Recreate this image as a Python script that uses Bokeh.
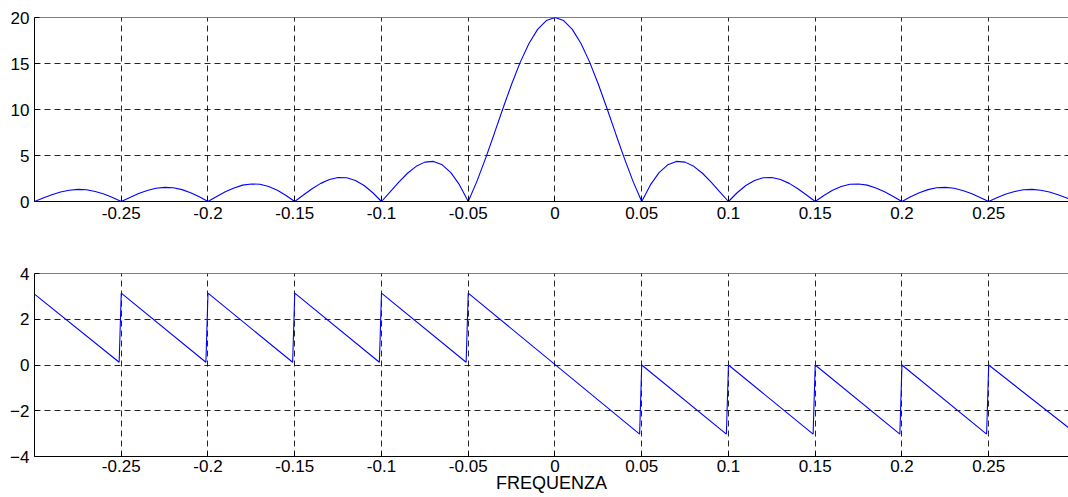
from bokeh.plotting import figure
from bokeh.models import Range1d, FixedTicker, Span
from bokeh.layouts import column
from bokeh.embed import file_html
from bokeh.resources import INLINE

# ---------------- data ----------------
freq = [-0.300, -0.295, -0.290, -0.285, -0.280, -0.275, -0.270, -0.265, -0.260, -0.255,
        -0.250, -0.245, -0.240, -0.235, -0.230, -0.225, -0.220, -0.215, -0.210, -0.205,
        -0.200, -0.195, -0.190, -0.185, -0.180, -0.175, -0.170, -0.165, -0.160, -0.155,
        -0.150, -0.145, -0.140, -0.135, -0.130, -0.125, -0.120, -0.115, -0.110, -0.105,
        -0.100, -0.095, -0.090, -0.085, -0.080, -0.075, -0.070, -0.065, -0.060, -0.055,
        -0.050, -0.045, -0.040, -0.035, -0.030, -0.025, -0.020, -0.015, -0.010, -0.005,
        0.000,
        0.005, 0.010, 0.015, 0.020, 0.025, 0.030, 0.035, 0.040, 0.045, 0.050,
        0.055, 0.060, 0.065, 0.070, 0.075, 0.080, 0.085, 0.090, 0.095, 0.100,
        0.105, 0.110, 0.115, 0.120, 0.125, 0.130, 0.135, 0.140, 0.145, 0.150,
        0.155, 0.160, 0.165, 0.170, 0.175, 0.180, 0.185, 0.190, 0.195, 0.200,
        0.205, 0.210, 0.215, 0.220, 0.225, 0.230, 0.235, 0.240, 0.245, 0.250,
        0.255, 0.260, 0.265, 0.270, 0.275, 0.280, 0.285, 0.290, 0.295, 0.300]

magnitude = [0.00, 0.39, 0.74, 1.04, 1.23, 1.32, 1.27, 1.09, 0.81, 0.43,
             0.00, 0.44, 0.86, 1.20, 1.44, 1.54, 1.49, 1.29, 0.96, 0.51,
             0.00, 0.54, 1.05, 1.47, 1.78, 1.91, 1.87, 1.63, 1.22, 0.66,
             0.00, 0.70, 1.38, 1.97, 2.39, 2.61, 2.58, 2.29, 1.74, 0.95,
             0.00, 1.05, 2.11, 3.07, 3.82, 4.28, 4.36, 3.99, 3.14, 1.80,
             0.00, 2.19, 4.69, 7.37, 10.11, 12.75, 15.15, 17.17, 18.71, 19.67,
             20.00,
             19.67, 18.71, 17.17, 15.15, 12.75, 10.11, 7.37, 4.69, 2.19, 0.00,
             1.80, 3.14, 3.99, 4.36, 4.28, 3.82, 3.07, 2.11, 1.05, 0.00,
             0.95, 1.74, 2.29, 2.58, 2.61, 2.39, 1.97, 1.38, 0.70, 0.00,
             0.66, 1.22, 1.63, 1.87, 1.91, 1.78, 1.47, 1.05, 0.54, 0.00,
             0.51, 0.96, 1.29, 1.49, 1.54, 1.44, 1.20, 0.86, 0.44, 0.00,
             0.43, 0.81, 1.09, 1.27, 1.32, 1.23, 1.04, 0.74, 0.39, 0.00]

phase_freq = [-0.300, -0.2512, -0.250, -0.2012, -0.200, -0.1512, -0.150, -0.1012,
              -0.100, -0.0512, -0.050, 0.0488, 0.050, 0.0988, 0.100, 0.1488,
              0.150, 0.1988, 0.200, 0.2488, 0.250, 0.300]
phase = [3.10, 0.12, 3.14, 0.12, 3.14, 0.12, 3.14, 0.12,
         3.14, 0.12, 3.14, -3.02, 0.00, -3.02, 0.00, -3.02,
         0.00, -3.02, 0.00, -3.02, 0.00, -2.98]

x_ticks = [-0.25, -0.2, -0.15, -0.1, -0.05, 0.0, 0.05, 0.1, 0.15, 0.2, 0.25]
x_tick_labels = ["-0.25", "-0.2", "-0.15", "-0.1", "-0.05", "0",
                 "0.05", "0.1", "0.15", "0.2", "0.25"]
mag_ticks = [0, 5, 10, 15, 20]
phase_ticks = [-4, -2, 0, 2, 4]
x_label = "FREQUENZA"

FONT = "Liberation Sans"
X_START, X_END = -0.3, 0.296


def style(p, yticks, ytop):
    p.outline_line_color = None
    p.background_fill_color = "white"
    p.border_fill_color = "white"
    p.xaxis.ticker = FixedTicker(ticks=x_ticks)
    p.xaxis.major_label_overrides = {t: l for t, l in zip(x_ticks, x_tick_labels)}
    p.yaxis.ticker = FixedTicker(ticks=yticks)
    for ax in (p.xaxis, p.yaxis):
        ax.axis_line_color = "black"
        ax.axis_line_width = 1
        ax.major_tick_in = 5
        ax.major_tick_out = 0
        ax.major_tick_line_color = "black"
        ax.minor_tick_line_color = None
        ax.major_label_text_font = FONT
        ax.major_label_text_font_size = "17px"
        ax.major_label_text_color = "black"
        ax.major_label_standoff = 5
    for g in (p.xgrid, p.ygrid):
        g.grid_line_color = "black"
        g.grid_line_alpha = 0.85
        g.grid_line_dash = "6 4"
        g.grid_line_width = 1
    p.add_layout(Span(location=ytop, dimension="width", line_color="black", line_width=1))


p1 = figure(width=1068, height=249, x_range=Range1d(X_START, X_END), y_range=Range1d(0, 20),
            output_backend="svg", toolbar_location=None,
            min_border_left=34, min_border_right=0, min_border_top=17, min_border_bottom=48)
style(p1, mag_ticks, 20)
p1.line(freq, magnitude, line_color="#0000ff", line_width=1.1)

p2 = figure(width=1068, height=248, x_range=Range1d(X_START, X_END), y_range=Range1d(-4, 4),
            output_backend="svg", toolbar_location=None,
            min_border_left=34, min_border_right=0, min_border_top=24, min_border_bottom=41)
style(p2, phase_ticks, 4)
p2.xaxis.major_label_standoff = 3
p2.xaxis.axis_label = x_label
p2.xaxis.axis_label_standoff = -2
p2.xaxis.axis_label_text_font = FONT
p2.xaxis.axis_label_text_font_size = "18px"
p2.xaxis.axis_label_text_font_style = "normal"
p2.xaxis.axis_label_text_color = "black"
p2.line(phase_freq, phase, line_color="#0000ff", line_width=1.1)

layout = column(p1, p2, spacing=0)
open("out.html", "w").write(file_html(layout, INLINE))
